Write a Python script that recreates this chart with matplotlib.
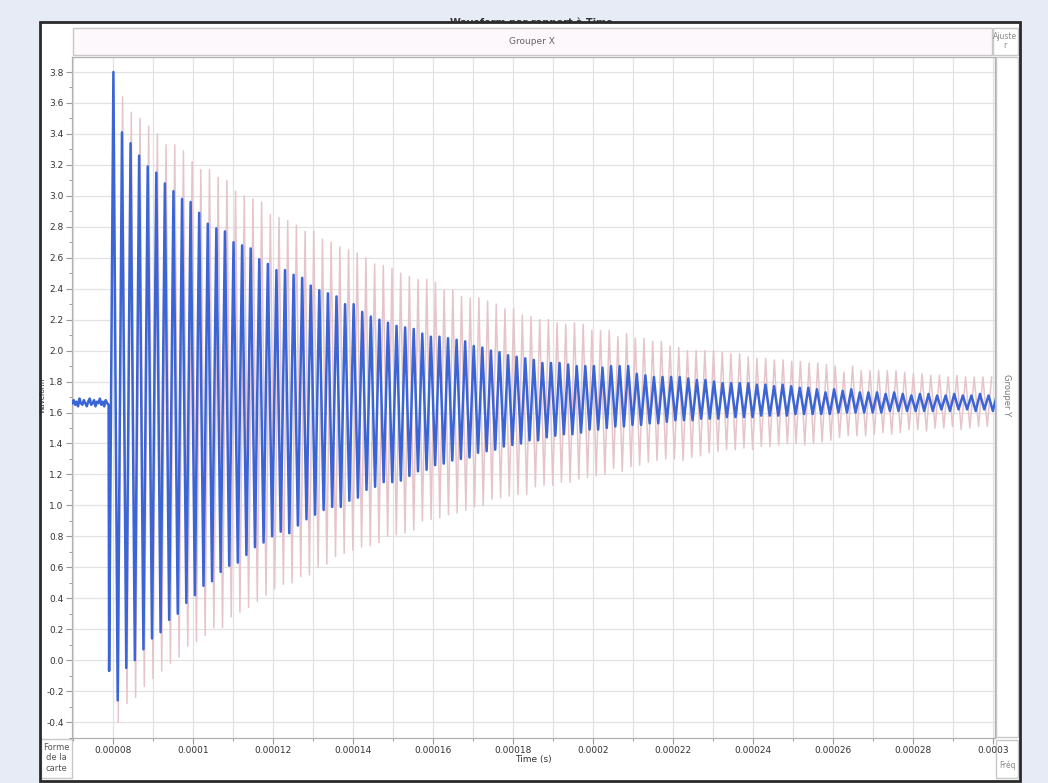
import numpy as np
import matplotlib.pyplot as plt
from matplotlib.patches import Rectangle
from matplotlib.ticker import MultipleLocator, FuncFormatter

# signal level before the trigger (blue trace)
t_flat_start = 0.0000698
t_flat_end = 0.0000789
v_flat = [1.66, 1.68, 1.65, 1.67, 1.64, 1.69, 1.66, 1.65, 1.68, 1.66, 1.64, 1.67, 1.69,
          1.65, 1.66, 1.68, 1.64, 1.67, 1.66, 1.69, 1.65, 1.67, 1.64, 1.68, 1.66, 1.65]

# blue trace: one max / min per cycle
blue_t0 = 0.0000801
blue_period = 2.145e-6
blue_hi = [3.80, 3.41, 3.34, 3.26, 3.19, 3.15, 3.08, 3.03, 2.98, 2.96,
           2.89, 2.82, 2.79, 2.77, 2.70, 2.68, 2.66, 2.59, 2.56, 2.52,
           2.52, 2.49, 2.47, 2.42, 2.39, 2.37, 2.35, 2.30, 2.30, 2.25,
           2.22, 2.20, 2.18, 2.16, 2.15, 2.14, 2.11, 2.09, 2.09, 2.08,
           2.07, 2.06, 2.03, 2.02, 2.00, 1.99, 1.97, 1.96, 1.95, 1.94,
           1.92, 1.92, 1.92, 1.91, 1.90, 1.90, 1.90, 1.89, 1.90, 1.90,
           1.90, 1.85, 1.84, 1.83, 1.83, 1.83, 1.83, 1.82, 1.81, 1.81,
           1.80, 1.79, 1.79, 1.79, 1.79, 1.78, 1.78, 1.77, 1.78, 1.77,
           1.76, 1.76, 1.75, 1.73, 1.75, 1.74, 1.75, 1.73, 1.73, 1.73,
           1.72, 1.73, 1.72, 1.71, 1.72, 1.72, 1.71, 1.71, 1.72, 1.71,
           1.71, 1.72, 1.71, 1.72]
blue_lo = [-0.07, -0.26, -0.05, 0.00, 0.07, 0.14, 0.18, 0.26, 0.30, 0.37,
           0.42, 0.48, 0.51, 0.57, 0.61, 0.63, 0.68, 0.73, 0.76, 0.80,
           0.83, 0.82, 0.87, 0.91, 0.94, 0.97, 0.99, 0.99, 1.03, 1.05,
           1.10, 1.12, 1.15, 1.15, 1.16, 1.19, 1.22, 1.23, 1.26, 1.27,
           1.29, 1.30, 1.31, 1.34, 1.35, 1.36, 1.38, 1.39, 1.40, 1.42,
           1.42, 1.44, 1.45, 1.46, 1.46, 1.47, 1.49, 1.49, 1.50, 1.51,
           1.51, 1.52, 1.52, 1.53, 1.53, 1.54, 1.55, 1.55, 1.55, 1.56,
           1.56, 1.56, 1.57, 1.57, 1.57, 1.57, 1.58, 1.58, 1.58, 1.58,
           1.59, 1.59, 1.59, 1.59, 1.59, 1.60, 1.60, 1.60, 1.60, 1.60,
           1.60, 1.61, 1.61, 1.61, 1.61, 1.61, 1.61, 1.62, 1.61, 1.62,
           1.62, 1.61, 1.62, 1.61]

# pink trace
pink_t0 = 0.0000824
pink_period = 2.1725e-6
pink_hi = [3.64, 3.54, 3.50, 3.45, 3.40, 3.33, 3.33, 3.29, 3.22, 3.17,
           3.17, 3.12, 3.10, 3.03, 3.00, 2.98, 2.96, 2.88, 2.86, 2.84,
           2.81, 2.77, 2.77, 2.72, 2.70, 2.67, 2.65, 2.63, 2.60, 2.56,
           2.55, 2.53, 2.50, 2.48, 2.46, 2.46, 2.44, 2.39, 2.39, 2.35,
           2.34, 2.34, 2.32, 2.30, 2.27, 2.27, 2.23, 2.22, 2.20, 2.20,
           2.18, 2.17, 2.18, 2.17, 2.13, 2.13, 2.13, 2.09, 2.11, 2.08,
           2.08, 2.06, 2.06, 2.03, 2.02, 2.00, 2.00, 2.00, 2.00, 1.99,
           1.98, 1.98, 1.96, 1.95, 1.95, 1.94, 1.94, 1.93, 1.93, 1.92,
           1.92, 1.91, 1.90, 1.86, 1.90, 1.87, 1.87, 1.87, 1.87, 1.87,
           1.86, 1.85, 1.85, 1.84, 1.84, 1.83, 1.84, 1.83, 1.83, 1.83,
           1.83]
pink_lo = [-0.40, -0.28, -0.24, -0.17, -0.12, -0.07, -0.02, 0.02, 0.09, 0.12,
           0.16, 0.21, 0.21, 0.28, 0.31, 0.34, 0.38, 0.42, 0.46, 0.49,
           0.50, 0.54, 0.55, 0.60, 0.62, 0.67, 0.69, 0.71, 0.73, 0.74,
           0.76, 0.80, 0.81, 0.82, 0.84, 0.90, 0.91, 0.92, 0.94, 0.95,
           0.97, 0.99, 1.00, 1.04, 1.05, 1.06, 1.07, 1.07, 1.12, 1.13,
           1.13, 1.15, 1.15, 1.17, 1.18, 1.19, 1.20, 1.24, 1.22, 1.25,
           1.26, 1.28, 1.29, 1.30, 1.30, 1.29, 1.31, 1.32, 1.34, 1.35,
           1.36, 1.36, 1.37, 1.36, 1.38, 1.38, 1.39, 1.40, 1.40, 1.39,
           1.40, 1.41, 1.42, 1.44, 1.45, 1.45, 1.45, 1.46, 1.47, 1.46,
           1.47, 1.49, 1.49, 1.48, 1.50, 1.50, 1.51, 1.49, 1.50, 1.51,
           1.51]

x_ticks = [0.00008, 0.0001, 0.00012, 0.00014, 0.00016, 0.00018,
           0.0002, 0.00022, 0.00024, 0.00026, 0.00028, 0.0003]


def zigzag(t0, period, hi, lo):
    t, v = [], []
    for k, (h, l) in enumerate(zip(hi, lo)):
        t += [t0 + k * period - period / 2, t0 + k * period]
        v += [l, h]
    return t, v


W, H = 1048, 783
fig = plt.figure(figsize=(W / 100, H / 100), dpi=100)
fig.patch.set_facecolor('#e7ebf5')


def px_box(x0, y0, x1, y1, **kw):
    r = Rectangle((x0 / W, 1 - y1 / H), (x1 - x0) / W, (y1 - y0) / H,
                  transform=fig.transFigure, **kw)
    fig.add_artist(r)
    return r


def px_text(x, y, s, **kw):
    fig.text(x / W, 1 - y / H, s, **kw)


# title, half hidden behind the app panel
px_text(531, 23, 'Waveform par rapport à Time', ha='center', va='center',
        fontsize=7, fontweight='bold', color='#333333', zorder=0)
# white panel of the app
px_box(40, 22, 1020, 781, facecolor='white', edgecolor='none', zorder=1)
px_box(40, 22, 1020, 781, facecolor='none', edgecolor='#2a2a2a', lw=2, zorder=5)

# header / side boxes
px_box(73, 28, 992, 55, facecolor='#fdf8fc', edgecolor='#c8c8c8', lw=1, zorder=2)
px_text(532, 41, 'Grouper X', ha='center', va='center', fontsize=6.5,
        color='#666666', zorder=3)
px_box(993, 28, 1018, 55, facecolor='white', edgecolor='#c8c8c8', lw=1, zorder=2)
px_text(1005, 41, 'Ajuste\nr', ha='center', va='center', fontsize=5.5,
        color='#888888', linespacing=1.1, zorder=3)
px_box(996, 57, 1018, 737, facecolor='white', edgecolor='#c8c8c8', lw=1, zorder=2)
px_text(1007, 395, 'Grouper Y', ha='center', va='center', fontsize=6,
        color='#777777', rotation=-90, zorder=3)
px_box(996, 740, 1018, 778, facecolor='white', edgecolor='#c8c8c8', lw=1, zorder=2)
px_text(1008, 765, 'Fréq', ha='center', va='center', fontsize=5.5,
        color='#888888', zorder=3)
px_box(41, 739, 72, 778, facecolor='white', edgecolor='#c8c8c8', lw=1, zorder=2)
px_text(56, 758, 'Forme\nde la\ncarte', ha='center', va='center', fontsize=6,
        color='#555555', linespacing=1.25, zorder=3)
px_text(43, 395, 'Waveform', ha='center', va='center', fontsize=5,
        color='#333333', rotation=90, zorder=3)

ax = fig.add_axes([72 / W, 1 - 738 / H, (995 - 72) / W, (738 - 57) / H])
ax.set_facecolor('white')
ax.set_zorder(2)

t_flat = np.linspace(t_flat_start, t_flat_end, len(v_flat))
bt, bv = zigzag(blue_t0, blue_period, blue_hi, blue_lo)
pt, pv = zigzag(pink_t0, pink_period, pink_hi, pink_lo)

ax.plot(pt, pv, color='#e5c4ca', lw=1.1, zorder=2)
ax.plot(list(t_flat) + bt, v_flat + bv, color='#3b64d4', lw=1.8, zorder=3)

ax.set_xlim(0.00006975, 0.0003005)
ax.set_ylim(-0.503, 3.897)

ax.set_xticks(x_ticks)
ax.xaxis.set_minor_locator(MultipleLocator(0.00001))
ax.yaxis.set_major_locator(MultipleLocator(0.2))
ax.yaxis.set_minor_locator(MultipleLocator(0.1))
ax.xaxis.set_major_formatter(FuncFormatter(lambda v, p: ('%.5f' % v).rstrip('0')))
ax.yaxis.set_major_formatter(FuncFormatter(lambda v, p: '%.1f' % v))
ax.grid(which='major', color='#e2e2e2', lw=0.9)
ax.grid(which='minor', axis='x', color='#e2e2e2', lw=0.9)
ax.set_axisbelow(True)
ax.tick_params(axis='both', which='major', labelsize=6.5, colors='#9a9a9a',
               labelcolor='#333333', length=4, width=0.8)
ax.tick_params(axis='both', which='minor', colors='#9a9a9a', length=2.5, width=0.7)
ax.tick_params(axis='x', pad=2)
ax.tick_params(axis='y', pad=2)
for s in ax.spines.values():
    s.set_color('#b0b0b0')
    s.set_linewidth(0.9)
ax.set_xlabel('Time (s)', fontsize=6.5, color='#333333', labelpad=0)

fig.savefig('out.png', dpi=100, facecolor=fig.get_facecolor())
